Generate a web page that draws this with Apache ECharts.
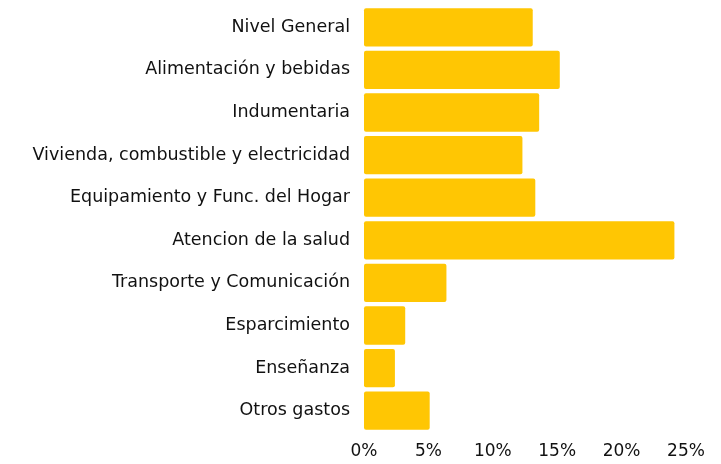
<!DOCTYPE html>
<html>
<head>
<meta charset="utf-8">
<script src="https://cdn.jsdelivr.net/npm/echarts@6/dist/echarts.min.js"></script>
<style>
  html, body { margin: 0; padding: 0; background: #fff; }
  #chart { width: 721px; height: 464px; }
</style>
</head>
<body>
<div id="chart"></div>
<script>
// categories top to bottom
const categories = [
  'Nivel General',
  'Alimentación y bebidas',
  'Indumentaria',
  'Vivienda, combustible y electricidad',
  'Equipamiento y Func. del Hogar',
  'Atencion de la salud',
  'Transporte y Comunicación',
  'Esparcimiento',
  'Enseñanza',
  'Otros gastos',
]
const values = [13.1, 15.2, 13.6, 12.3, 13.3, 24.1, 6.4, 3.2, 2.4, 5.1]

const chart = echarts.init(document.getElementById('chart'))

chart.setOption({
  animation: false,
  grid: {
    left: 364,
    right: 35,
    top: 6,
    bottom: 32,
  },
  xAxis: {
    type: 'value',
    min: 0,
    max: 25,
    interval: 5,
    axisLabel: {
      formatter: '{value}%',
      color: '#111',
      fontSize: 17,
      fontFamily: 'DejaVu Sans',
      margin: 11,
    },
    axisLine: { show: false },
    axisTick: { show: false },
    splitLine: { show: false },
  },
  yAxis: {
    type: 'category',
    inverse: true,
    data: categories,
    axisLabel: {
      color: '#111',
      fontSize: 17.5,
      fontFamily: 'DejaVu Sans',
      margin: 14,
    },
    axisLine: { show: false },
    axisTick: { show: false },
  },
  series: [
    {
      type: 'bar',
      data: values,
      barCategoryGap: '10%',
      itemStyle: {
        color: '#FFC603',
        borderRadius: 2,
      },
    },
  ],
})
</script>
</body>
</html>
